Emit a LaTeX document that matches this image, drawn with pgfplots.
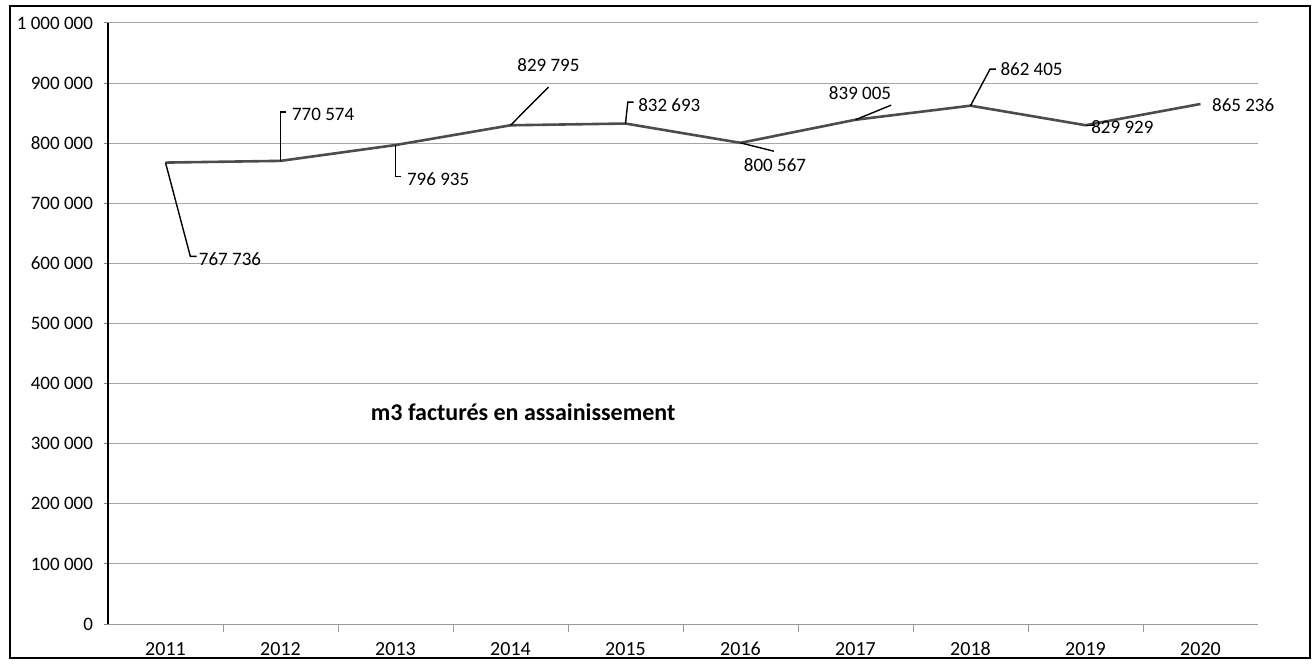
\documentclass[border=0pt]{standalone}
\usepackage{fontspec}
\setmainfont{Carlito}
\usepackage{pgfplots}
\pgfplotsset{compat=1.18}
\begin{document}
\begin{tikzpicture}
\useasboundingbox (0pt,0pt) rectangle (657.5pt,331.5pt);
\draw[line width=1pt] (5pt,2.5pt) rectangle (655pt,328.5pt);
\begin{axis}[
  at={(54pt,19.5pt)}, anchor=south west,
  scale only axis, width=575pt, height=300.5pt,
  xmin=-0.5, xmax=9.5, ymin=0, ymax=1000000,
  axis x line*=bottom, axis y line*=left,
  x axis line style={-, gray!80, line width=0.5pt},
  y axis line style={-, black, line width=1pt},
  xtick={0,...,9},
  xticklabels={2011,2012,2013,2014,2015,2016,2017,2018,2019,2020},
  minor xtick={0.5,1.5,...,8.5},
  major x tick style={draw=none},
  minor x tick style={gray!80, line width=0.5pt},
  tick align=outside,
  major tick length=2pt, minor tick length=4pt,
  ytick={0,100000,...,1000000},
  yticklabels={0,100 000,200 000,300 000,400 000,500 000,600 000,700 000,800 000,900 000,1 000 000},
  scaled y ticks=false,
  ymajorgrids,
  major grid style={gray!70, line width=0.5pt},
  y tick style={gray, line width=0.5pt},
  tick label style={font=\fontsize{9.5}{11}\selectfont},
  yticklabel style={xshift=-2pt},
  xticklabel style={yshift=-3pt, anchor=north, text height=7pt, text depth=1pt, font=\fontsize{10}{12}\selectfont},
  clip=false,
]
\addplot[black!70, line width=1.3pt, mark=none] coordinates {
  (0,767736) (1,770574) (2,796935) (3,829795) (4,832693)
  (5,800567) (6,839005) (7,862405) (8,829929) (9,865236)
};
% leader lines
\draw[black, line width=0.7pt] (axis cs:0,767736) -- (axis cs:0.216,611667) -- (axis cs:0.27,611667);
\draw[black, line width=0.7pt] (axis cs:1,770574) -- (axis cs:1,851667) -- (axis cs:1.05,851667);
\draw[black, line width=0.7pt] (axis cs:2,796935) -- (axis cs:2,745000) -- (axis cs:2.05,745000);
\draw[black, line width=0.7pt] (axis cs:3,829795) -- (axis cs:3.33,893333);
\draw[black, line width=0.7pt] (axis cs:4,832693) -- (axis cs:4.02,868333) -- (axis cs:4.07,868333);
\draw[black, line width=0.7pt] (axis cs:5,800567) -- (axis cs:5.29,786667);
\draw[black, line width=0.7pt] (axis cs:6,839005) -- (axis cs:6.31,863333);
\draw[black, line width=0.7pt] (axis cs:7,862405) -- (axis cs:7.17,923333) -- (axis cs:7.22,923333);
\draw[black, line width=0.7pt] (axis cs:8,829929) -- (axis cs:8.07,829929);
% labels
\begin{scope}[every node/.style={font=\fontsize{9.5}{11}\selectfont, inner sep=1pt}]
\node[anchor=west] at (axis cs:0.27,607000) {767 736};
\node[anchor=west] at (axis cs:1.08,848333) {770 574};
\node[anchor=west] at (axis cs:2.08,740000) {796 935};
\node[anchor=south] at (axis cs:3.33,915000) {829 795};
\node[anchor=west] at (axis cs:4.09,863333) {832 693};
\node[anchor=north] at (axis cs:5.30,778000) {800 567};
\node[anchor=south east] at (axis cs:6.33,868000) {839 005};
\node[anchor=west] at (axis cs:7.24,923333) {862 405};
\node[anchor=west] at (axis cs:8.03,826000) {829 929};
\node[anchor=west] at (axis cs:9.08,864000) {865 236};
\end{scope}
\node[font=\bfseries\fontsize{12}{14}\selectfont] at (axis cs:3.11,352000) {m3 facturés en assainissement};
\end{axis}
\end{tikzpicture}
\end{document}
